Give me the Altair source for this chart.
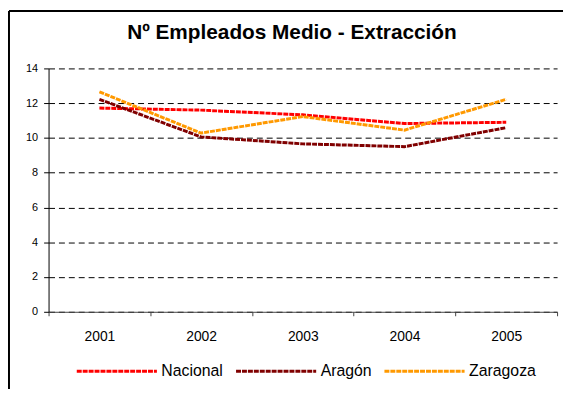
import altair as alt
import pandas as pd

years = ["2001", "2002", "2003", "2004", "2005"]
nacional = [11.72, 11.6, 11.33, 10.83, 10.9]
aragon = [12.22, 10.06, 9.66, 9.5, 10.59]
zaragoza = [12.65, 10.28, 11.23, 10.45, 12.22]
series = ["Nacional", "Aragón", "Zaragoza"]
colors = ["#FF0000", "#800000", "#FF9900"]

rows = []
for name, vals in zip(series, [nacional, aragon, zaragoza]):
    for y, v in zip(years, vals):
        rows.append({"Año": y, "Serie": name, "Valor": v})
df = pd.DataFrame(rows)

W, H = 514, 246

lines = alt.Chart(df).mark_line(strokeWidth=3, strokeDash=[5, 1]).encode(
    x=alt.X("Año:O", sort=years,
            scale=alt.Scale(type="band", paddingInner=0, paddingOuter=0),
            axis=alt.Axis(title=None, labelAngle=0, tickBand="extent",
                          labelFontSize=14, labelPadding=14, labelColor="#000000",
                          labelFont="Liberation Sans",
                          domainColor="#444444", tickColor="#444444", tickSize=4,
                          grid=False)),
    y=alt.Y("Valor:Q", scale=alt.Scale(domain=[0, 14], nice=False),
            axis=alt.Axis(title=None, values=[0, 2, 4, 6, 8, 10, 12, 14],
                          labelFontSize=11, labelColor="#000000",
                          labelFont="Liberation Sans", labelPadding=6,
                          domainColor="#000000", tickColor="#000000", tickSize=5,
                          grid=True, gridColor="#000000", gridDash=[6, 4],
                          gridWidth=1)),
    color=alt.Color("Serie:N", sort=series,
                    scale=alt.Scale(domain=series, range=colors),
                    legend=alt.Legend(title=None, orient="none", direction="horizontal",
                                      legendX=27, legendY=264,
                                      symbolType="stroke", symbolSize=6561,
                                      symbolStrokeWidth=3, labelFontSize=16,
                                      labelFont="Liberation Sans", labelColor="#000000",
                                      labelOffset=3, columnPadding=6,
                                      symbolDash=[5, 1])),
)

frame_df = pd.DataFrame({"k": [0]})
frame_left = alt.Chart(frame_df).mark_rule(color="#000000", strokeWidth=2).encode(
    x=alt.value(-40), y=alt.value(-58), y2=alt.value(H + 78))
frame_top = alt.Chart(frame_df).mark_rule(color="#000000", strokeWidth=2).encode(
    x=alt.value(-40), x2=alt.value(W + 6), y=alt.value(-58), y2=alt.value(-58))

chart = alt.layer(frame_left, frame_top, lines).properties(
    width=W, height=H,
    padding={"left": 0, "top": 0, "right": 0, "bottom": 0},
    title=alt.TitleParams("Nº Empleados Medio - Extracción", fontSize=21,
                          font="Liberation Sans", fontWeight="bold", color="#000000",
                          anchor="middle", dx=-11, offset=-33),
).configure_view(stroke=None)

chart.save("out.html", embed_options={"renderer": "svg", "actions": False})
